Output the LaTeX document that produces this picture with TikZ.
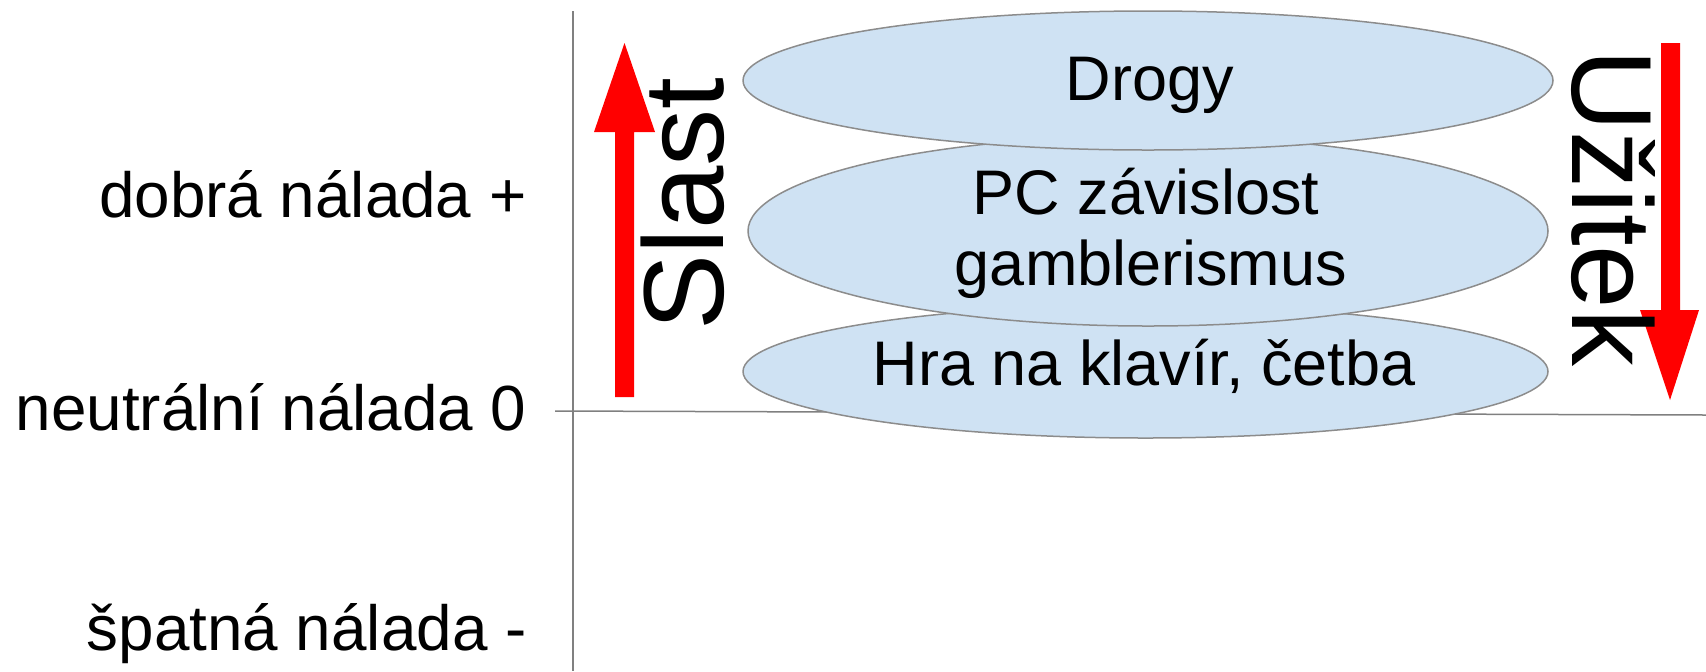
\documentclass[tikz,border=0pt]{standalone}
\usepackage{fontspec}
\setmainfont{Liberation Sans}
\usetikzlibrary{shapes.geometric}
\definecolor{bubblefill}{RGB}{207,226,243}
\definecolor{rim}{RGB}{140,140,140}
\definecolor{axisgray}{RGB}{128,128,128}
\begin{document}
\begin{tikzpicture}[x=0.5pt,y=-0.5pt,
  bubble/.style={ellipse, draw=rim, line width=0.75pt, fill=bubblefill, inner sep=0pt},
  bubbletext/.style={anchor=base, inner sep=0pt, font=\fontsize{31.5}{34}\selectfont},
  mood/.style={anchor=base east, inner sep=0pt, font=\fontsize{31.9}{34}\selectfont},
  bigword/.style={anchor=base, inner sep=0pt, font=\fontsize{57}{60}\selectfont},
  axisline/.style={draw=axisgray, line width=0.75pt},
  blockarrow/.style={fill=red}]
\useasboundingbox (0,0) rectangle (1706,671);
% axes
\coordinate (vtop) at (573,11);
\coordinate (vbot) at (573,671);
\coordinate (hleft) at (555,411);
\coordinate (hright) at (1706,415);
\draw[axisline] (vtop) -- (vbot);
\draw[axisline] (hleft) -- (hright);
% mood labels
\node[mood] (good) at (527,217) {dobrá nálada +};
\node[mood] (neutral) at (527,430) {neutrální nálada 0};
\node[mood] (bad) at (527,650) {špatná nálada -};
% ellipses (bottom first)
\node[bubble, minimum width=402.5pt, minimum height=66.5pt] (hra) at (1145.5,371.5) {};
\node[bubbletext] (hratext) at (1144,385) {Hra na klavír, četba};
\node[bubble, minimum width=400pt, minimum height=95pt] (pc) at (1148,231) {};
\node[bubbletext] (pctext1) at (1146,214) {PC závislost};
\node[bubbletext] (pctext2) at (1151,285) {gamblerismus};
\node[bubble, minimum width=405pt, minimum height=69.5pt] (drogy) at (1148,80.5) {};
\node[bubbletext] (drogytext) at (1150,100) {Drogy};
% red block arrows
\fill[blockarrow] (615,397) -- (634,397) -- (634,132) -- (655,132) -- (624.5,43) -- (594,132) -- (615,132) -- cycle;
\fill[blockarrow] (1661,43) -- (1680,43) -- (1680,310) -- (1699,310) -- (1670,400) -- (1640,310) -- (1661,310) -- cycle;
% rotated words
\node[bigword, rotate=90] (slast) at (723,204) {Slast};
\node[bigword, rotate=-90] (uzitek) at (1572,208) {Užitek};
\end{tikzpicture}
\end{document}
